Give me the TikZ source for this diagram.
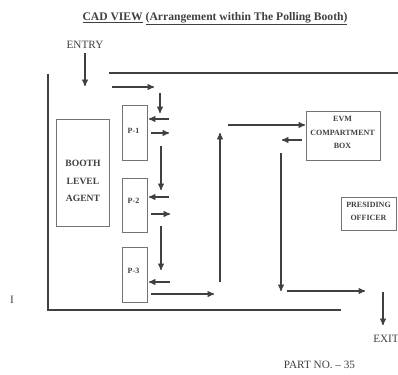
\documentclass[tikz,border=0pt]{standalone}
\usepackage{fontspec}
\setmainfont{Liberation Serif}
\usetikzlibrary{arrows}
\definecolor{inkgray}{gray}{0.25}
\tikzset{
    every edge/.append style={
        draw,
        ->,>=stealth',
        inkgray,
        line width=1.3pt
    },
    wall/.style={
        draw=inkgray,
        line width=1.6pt
    },
    booth/.style={
        draw=black!55,
        line width=0.9pt,
        inner sep=0pt
    },
    boothtext/.style={
        inner sep=0pt,
        align=center,
        text=inkgray,
        font=\bfseries\fontsize{8}{13.5}\selectfont
    },
    caption/.style={
        text=inkgray,
        inner sep=0pt,
        font=\fontsize{11.2}{13}\selectfont
    }
}

\begin{document}
\begin{tikzpicture}[x=1pt,y=-1pt]
                \useasboundingbox (0,0) rectangle (398,374);
                % texts
                \node[caption, font=\bfseries\fontsize{11.6}{13}\selectfont] (title) at (215,18.5) {\underline{CAD VIEW} \underline{(Arrangement within The Polling Booth)}};
                \node[caption] (entry) at (85,45) {ENTRY};
                \node[caption] (exit) at (386,339) {EXIT};
                \node[caption] (part) at (319.5,365) {PART NO. -- 35};
                \node[caption] (mark) at (12,300) {I};
                % boxes
                \node[booth, minimum width=53pt, minimum height=107pt] (agent) at (82.5,172.5) {};
                \node[booth, minimum width=25pt, minimum height=55pt] (p1) at (134.5,132.5) {};
                \node[booth, minimum width=25pt, minimum height=54pt] (p2) at (134.5,205) {};
                \node[booth, minimum width=25pt, minimum height=55pt] (p3) at (134.5,274.5) {};
                \node[booth, minimum width=74pt, minimum height=49pt] (evm) at (343,135.5) {};
                \node[booth, minimum width=55pt, minimum height=33pt] (officer) at (368.5,213.5) {};
                % box labels
                \node[boothtext, font=\bfseries\fontsize{9.6}{17.5}\selectfont] (agenttext) at (83,181) {BOOTH\\LEVEL\\AGENT};
                \node[boothtext] (p1text) at (133.5,131) {P-1};
                \node[boothtext] (p2text) at (133.5,201) {P-2};
                \node[boothtext] (p3text) at (133.5,271) {P-3};
                \node[boothtext] (evmtext) at (342.5,132.5) {EVM\\COMPARTMENT\\BOX};
                \node[boothtext, font=\bfseries\fontsize{8}{13}\selectfont] (officertext) at (368.5,211.5) {PRESIDING\\OFFICER};
                % walls
                \draw[wall] (48,74) -- (48,310) -- (341,310);
                \draw[wall] (109,73) -- (398,73);
                % ends of the arrows
                \coordinate (in1) at (85,53);
                \coordinate (in2) at (85,86);
                \coordinate (a1) at (112,87);
                \coordinate (a2) at (154,87);
                \coordinate (b1) at (160,93);
                \coordinate (b2) at (160,113);
                \coordinate (c1) at (169,119);
                \coordinate (c2) at (149,119);
                \coordinate (d1) at (151,133);
                \coordinate (d2) at (169,133);
                \coordinate (e1) at (161,146);
                \coordinate (e2) at (161,190);
                \coordinate (f1) at (169,197);
                \coordinate (f2) at (149,197);
                \coordinate (g1) at (151,214);
                \coordinate (g2) at (170,214);
                \coordinate (h1) at (161,226);
                \coordinate (h2) at (161,270);
                \coordinate (i1) at (170,282);
                \coordinate (i2) at (149,282);
                \coordinate (j1) at (151,294);
                \coordinate (j2) at (214,294);
                \coordinate (k1) at (220,282);
                \coordinate (k2) at (220,133);
                \coordinate (l1) at (228,125);
                \coordinate (l2) at (305,125);
                \coordinate (m1) at (302,140);
                \coordinate (m2) at (282,140);
                \coordinate (n1) at (281,153);
                \coordinate (n2) at (281,291);
                \coordinate (o1) at (287,291);
                \coordinate (o2) at (365,291);
                \coordinate (q1) at (383,292);
                \coordinate (q2) at (383,325);
                % arrows
                \draw (in1) edge (in2)
                    (a1) edge (a2)
                    (b1) edge (b2)
                    (c1) edge (c2)
                    (d1) edge (d2)
                    (e1) edge (e2)
                    (f1) edge (f2)
                    (g1) edge (g2)
                    (h1) edge (h2)
                    (i1) edge (i2)
                    (j1) edge (j2)
                    (k1) edge (k2)
                    (l1) edge (l2)
                    (m1) edge (m2)
                    (n1) edge (n2)
                    (o1) edge (o2)
                    (q1) edge (q2);
            \end{tikzpicture}
\end{document}
